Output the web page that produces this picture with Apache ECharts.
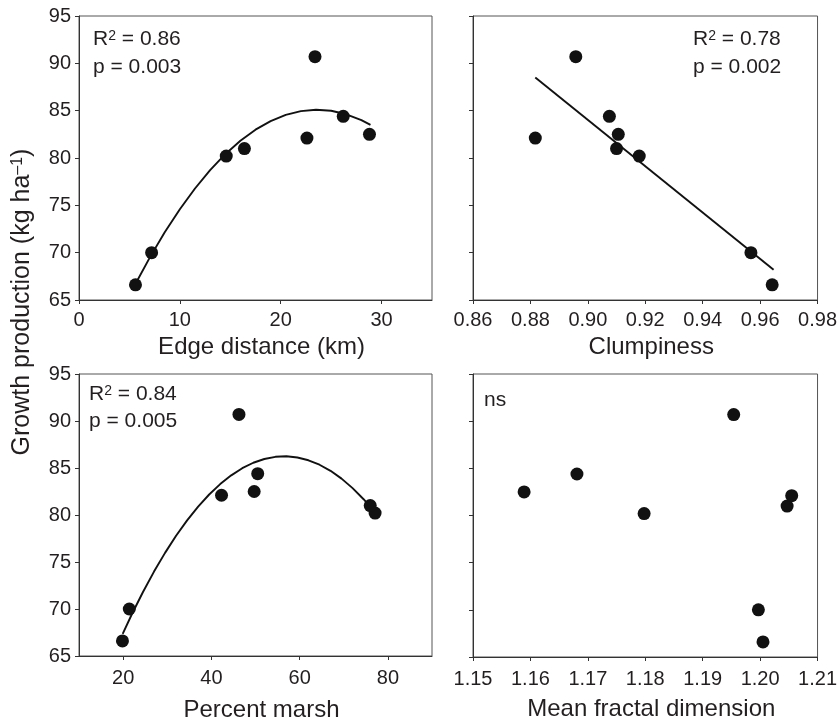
<!DOCTYPE html>
<html>
<head>
<meta charset="utf-8">
<script src="https://cdn.jsdelivr.net/npm/echarts@6/dist/echarts.min.js"></script>
<style>html,body{margin:0;padding:0;background:#fff;}#c{width:840px;height:723px;}</style>
</head>
<body>
<div id="c"></div>
<script>
// Growth production per site (kg ha-1)
const growth = [66.6, 70.0, 80.2, 81.0, 82.1, 82.5, 84.4, 90.7];
// Predictors per site
const edgeDistance = [5.6, 7.2, 14.6, 16.4, 22.6, 28.8, 26.2, 23.4];
const clumpiness = [0.9642, 0.9568, 0.9179, 0.9100, 0.8817, 0.9106, 0.9075, 0.8958];
const percentMarsh = [19.85, 21.4, 77.1, 76.0, 42.3, 49.7, 50.5, 46.25];
const fractalDim = [1.2005, 1.1997, 1.1798, 1.2047, 1.2055, 1.1589, 1.1681, 1.1954];

// Fitted curves
const edgeFitX = [5.7, 7, 8.5, 10, 11.5, 13, 14.5, 16, 17.5, 19, 20.5, 22, 23.5, 25, 26.5, 28, 28.9];
const edgeFitY = [66.9, 69.45, 72.15, 74.59, 76.78, 78.72, 80.4, 81.82, 82.99, 83.9, 84.55, 84.95, 85.1, 84.99, 84.62, 84.0, 83.5];
const clumpFitX = [0.8817, 0.9647];
const clumpFitY = [88.5, 68.2];
const marshFitX = [19.9, 22, 24.5, 27, 29.5, 32, 34.5, 37, 39.5, 42, 44.5, 47, 49.5, 52, 54.5, 57, 59.5, 62, 64.5, 67, 69.5, 72, 74.5, 76.5];
const marshFitY = [67.36, 69.47, 71.81, 73.98, 75.97, 77.79, 79.43, 80.89, 82.18, 83.29, 84.22, 84.98, 85.56, 85.96, 86.19, 86.25, 86.12, 85.82, 85.35, 84.7, 83.87, 82.86, 81.68, 80.61];

// Tick labels
const yTicks = [65, 70, 75, 80, 85, 90, 95];
const edgeTicks = [0, 10, 20, 30];
const clumpTicks = [0.86, 0.88, 0.90, 0.92, 0.94, 0.96, 0.98];
const marshTicks = [20, 40, 60, 80];
const fractalTicks = [1.15, 1.16, 1.17, 1.18, 1.19, 1.20, 1.21];

const xNames = ['Edge distance (km)', 'Clumpiness', 'Percent marsh', 'Mean fractal dimension'];
const yName = 'Growth production (kg ha{sup|\u20131})';
const stats = [['R{sup|2} = 0.86', 'p = 0.003'], ['R{sup|2} = 0.78', 'p = 0.002'], ['R{sup|2} = 0.84', 'p = 0.005'], ['ns']];

const FONT = '"Liberation Sans", Arial, Helvetica, sans-serif';
const TXT = '#231f20';
const AX = '#333';

const grids = [
  {left: 79, top: 16, width: 353, height: 284},
  {left: 473, top: 16, width: 354, height: 284},
  {left: 79, top: 374, width: 353, height: 283},
  {left: 473, top: 374, width: 354, height: 283}
].map(g => Object.assign({show: true, borderColor: '#555', borderWidth: 1, backgroundColor: 'transparent'}, g));

const xRanges = [[0, 35, edgeTicks, 0], [0.86, 0.98, clumpTicks, 2], [10, 90, marshTicks, 0], [1.15, 1.21, fractalTicks, 2]];
const nameGaps = [35, 35, 42, 40];
const labelMargins = [10, 10, 12, 12];

const xAxes = xRanges.map((r, i) => ({
  type: 'value', gridIndex: i, min: r[0], max: r[1],
  name: xNames[i], nameLocation: 'middle', nameGap: nameGaps[i],
  nameTextStyle: {fontSize: 24, color: TXT, fontFamily: FONT, padding: [0, 0, 0, 12]},
  axisLine: {show: true, onZero: false, lineStyle: {color: AX, width: 1}},
  axisTick: {show: true, inside: false, length: 4, lineStyle: {color: AX}, customValues: r[2]},
  axisLabel: {show: true, margin: labelMargins[i], fontSize: 20, color: TXT, fontFamily: FONT, customValues: r[2],
    formatter: v => r[3] ? Number(v).toFixed(r[3]) : String(Math.round(v))},
  splitLine: {show: false}
}));

const yAxes = [0, 1, 2, 3].map(i => ({
  type: 'value', gridIndex: i, min: 65, max: 95, interval: 5,
  axisLine: {show: true, onZero: false, lineStyle: {color: AX, width: 1}},
  axisTick: {show: true, inside: false, length: 4, lineStyle: {color: AX}},
  axisLabel: {show: i % 2 === 0, margin: 8, fontSize: 20, color: TXT, fontFamily: FONT},
  splitLine: {show: false}
}));

const xs = [edgeDistance, clumpiness, percentMarsh, fractalDim];
const series = xs.map((arr, i) => ({
  type: 'scatter', xAxisIndex: i, yAxisIndex: i, symbol: 'circle', symbolSize: 13,
  itemStyle: {color: '#111', opacity: 1}, z: 3,
  data: arr.map((x, k) => [x, growth[k]])
}));
const fits = [[edgeFitX, edgeFitY, 0], [clumpFitX, clumpFitY, 1], [marshFitX, marshFitY, 2]];
fits.forEach(f => series.push({
  type: 'line', xAxisIndex: f[2], yAxisIndex: f[2], showSymbol: false, smooth: false, z: 2,
  lineStyle: {color: '#111', width: 1.9, join: 'round'}, silent: true,
  data: f[0].map((x, k) => [x, f[1][k]])
}));

const statPos = [[93, 29, 57], [693, 29, 57], [89, 384, 411], [484, 390, 0]];
const graphic = [];
stats.forEach((lines, i) => {
  lines.forEach((t, j) => {
    graphic.push({type: 'text', x: statPos[i][0], y: j === 0 ? statPos[i][1] : statPos[i][2],
      style: {text: t, fontSize: 21, fontFamily: FONT, fill: TXT, align: 'left', verticalAlign: 'top',
        rich: {sup: {fontSize: 14, fontFamily: FONT, fill: TXT, verticalAlign: 'top', lineHeight: 21}}}});
  });
});
graphic.push({type: 'text', x: 22, y: 302, rotation: Math.PI / 2,
  style: {text: yName, fontSize: 25, fontFamily: FONT, fill: TXT, align: 'center', verticalAlign: 'middle',
    rich: {sup: {fontSize: 16, fontFamily: FONT, fill: TXT, verticalAlign: 'top', lineHeight: 25}}}});

const chart = echarts.init(document.getElementById('c'), null, {renderer: 'canvas'});
chart.setOption({
  animation: false,
  backgroundColor: '#fff',
  grid: grids, xAxis: xAxes, yAxis: yAxes, series: series, graphic: graphic
});
</script>
</body>
</html>
